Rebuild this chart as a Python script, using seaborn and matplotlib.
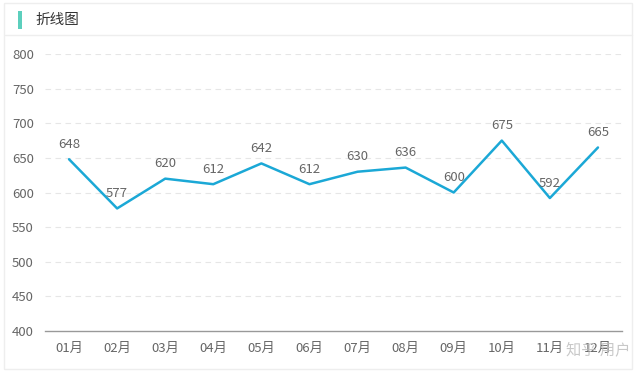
import matplotlib
matplotlib.use("Agg")
import matplotlib.pyplot as plt
import seaborn as sns
import pandas as pd
from matplotlib.patches import Rectangle
from matplotlib.lines import Line2D

months = ["01月", "02月", "03月", "04月", "05月", "06月",
          "07月", "08月", "09月", "10月", "11月", "12月"]
values = [648, 577, 620, 612, 642, 612, 630, 636, 600, 675, 592, 665]
y_ticks = [400, 450, 500, 550, 600, 650, 700, 750, 800]

sns.set_theme(style="white")
plt.rcParams['font.family'] = ['Noto Sans CJK SC', 'DejaVu Sans']

df = pd.DataFrame({"month": months, "value": values})
df["pos"] = range(len(months))

fig = plt.figure(figsize=(6.4, 3.72), dpi=100)
fig.patch.set_facecolor("white")
ax = fig.add_axes([45 / 640, 1 - 331 / 372, 577 / 640, 277 / 372])

sns.lineplot(data=df, x="pos", y="value", ax=ax, color="#1ba8d6", linewidth=1.8)

for x, v in zip(df["pos"], df["value"]):
    ax.annotate(str(v), (x, v), xytext=(0, 6), textcoords="offset points",
                ha="center", va="bottom", fontsize=9.5, color="#666666")

ax.set_xlim(-0.5, len(months) - 0.5)
ax.set_ylim(400, 800)
ax.set_yticks(y_ticks)
ax.set_yticklabels([str(t) for t in y_ticks])
ax.set_xticks(range(len(months)))
ax.set_xticklabels(months)
ax.set_xlabel("")
ax.set_ylabel("")
ax.tick_params(axis="both", length=0, labelsize=9.5, colors="#666666", pad=8)
# boundary ticks between categories
ax.set_xticks([i - 0.5 for i in range(len(months) + 1)], minor=True)
ax.tick_params(axis="x", which="minor", length=4, color="#bbbbbb", direction="out")

for t in y_ticks[1:]:
    ax.axhline(t, color="#e6e6e6", linewidth=0.8, linestyle=(0, (5, 4)), zorder=0)

for s in ["top", "right", "left"]:
    ax.spines[s].set_visible(False)
ax.spines["bottom"].set_color("#999999")
ax.spines["bottom"].set_linewidth(1)

# card header
fig.add_artist(Rectangle((18 / 640, 1 - 29 / 372), 4 / 640, 18 / 372,
                         transform=fig.transFigure, color="#5ccfbd", lw=0))
fig.text(35 / 640, 1 - 20 / 372, "折线图", fontsize=10.5, color="#333333", va="center")
fig.add_artist(Line2D([5 / 640, 632 / 640], [1 - 35 / 372, 1 - 35 / 372],
                      transform=fig.transFigure, color="#eeeeee", lw=1))
fig.add_artist(Rectangle((4 / 640, 3 / 372), 628 / 640, 366 / 372, transform=fig.transFigure,
                         fill=False, edgecolor="#eeeeee", lw=1))

# watermark
fig.text(598 / 640, 1 - 350 / 372, "知乎 用户", fontsize=11, color="#bbbbbb",
         ha="center", va="center", alpha=0.8)

fig.savefig("out.png", dpi=100, facecolor="white")
